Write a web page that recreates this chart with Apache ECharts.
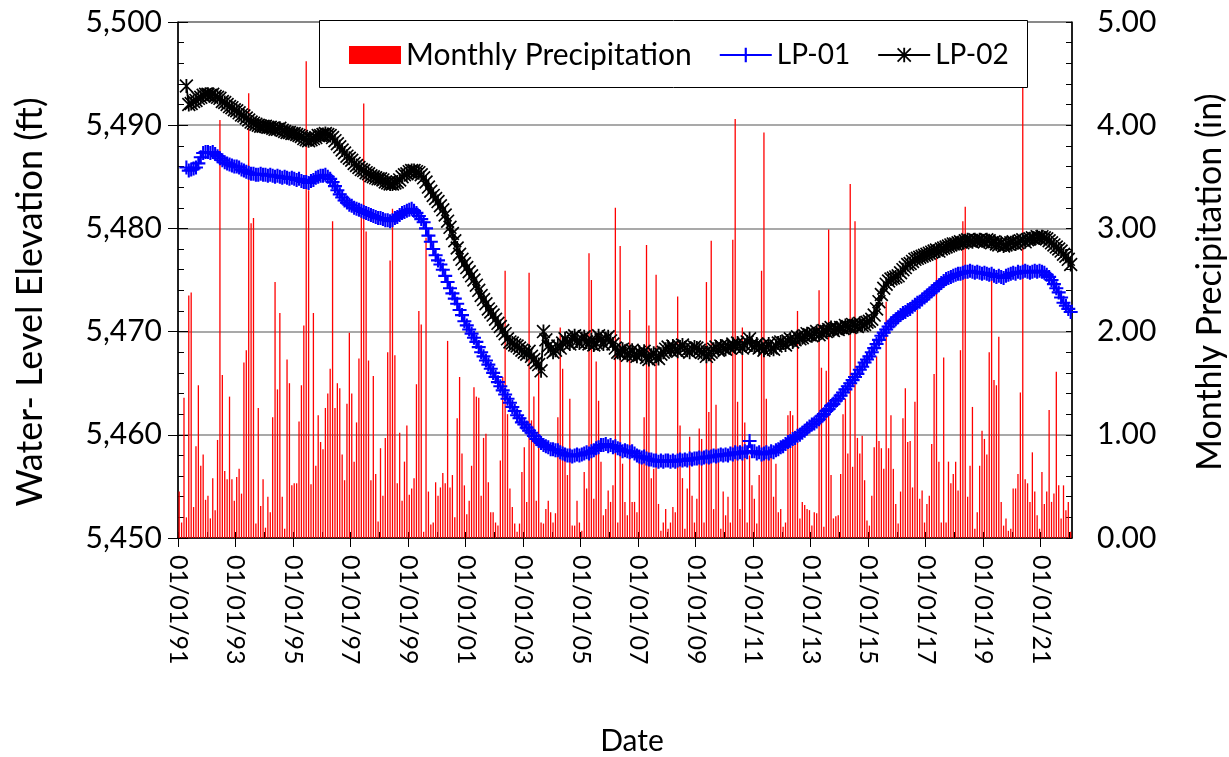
<!DOCTYPE html>
<html><head><meta charset="utf-8">
<script src="https://cdn.jsdelivr.net/npm/echarts@6/dist/echarts.min.js"></script>
<style>html,body{margin:0;padding:0;background:#fff}#c{width:1229px;height:757px}</style>
</head><body><div id="c"></div>
<script>
// ---------- data ----------
const baseYear = 1991;
const precipStart = [1991, 1];   // first monthly precipitation value: Jan 1991
const levelStart = [1991, 4];    // first water-level reading: Apr 1991
const xTickYears = [1991,1993,1995,1997,1999,2001,2003,2005,2007,2009,2011,2013,2015,2017,2019,2021];
const xMinorYears = [1991,1992,1993,1994,1995,1996,1997,1998,1999,2000,2001,2002,2003,2004,2005,2006,2007,2008,2009,2010,2011,2012,2013,2014,2015,2016,2017,2018,2019,2020,2021,2022];

const precipitation = [
0.45,0.15,1.36,0.20,2.35,2.38,0.30,0.89,1.48,0.70,
0.81,0.37,0.41,0.19,0.58,0.27,0.95,4.05,1.58,0.65,
0.57,1.37,0.57,0.36,0.59,0.67,0.43,1.70,1.82,4.31,
3.05,3.10,0.14,1.26,0.31,0.57,0.10,0.40,0.25,1.17,
2.48,1.44,2.18,0.40,0.09,1.73,1.50,0.51,0.53,0.53,
1.13,1.48,2.06,4.62,3.37,0.52,2.18,0.70,1.19,0.93,
0.86,1.26,1.40,1.64,3.07,1.26,1.50,1.45,0.81,0.56,
1.30,1.99,1.40,0.74,1.12,1.74,3.13,4.21,2.97,1.72,
0.56,1.57,0.62,0.16,0.87,0.41,0.97,1.80,2.69,3.19,
1.77,0.53,1.02,0.36,0.74,1.09,0.42,0.48,0.58,1.49,
2.20,2.07,0.06,2.91,0.45,0.13,0.15,0.54,0.41,0.49,
0.63,0.53,1.91,0.49,0.61,0.20,1.16,1.56,0.82,0.51,
0.23,0.36,0.70,
1.46,1.37,1.36,0.41,0.97,1.01,0.54,0.25,0.25,0.15,
0.12,0.75,1.56,2.59,1.20,0.48,0.30,0.14,0.06,0.14,
0.64,0.88,0.35,2.57,1.14,1.37,0.36,1.65,0.15,0.14,
0.28,0.36,0.25,0.15,0.24,1.17,2.04,1.64,0.78,0.61,
1.35,0.12,0.12,0.36,0.15,0.07,0.64,0.48,2.76,2.50,
0.38,1.71,1.33,0.74,0.22,0.28,0.46,0.35,0.51,3.20,
0.15,2.83,0.72,0.35,0.22,2.21,0.35,0.35,0.25,0.78,
0.74,1.17,2.84,2.06,0.58,0.67,2.55,0.33,0.07,0.15,
0.28,0.09,0.15,0.30,0.25,2.34,1.09,0.58,0.09,0.48,
0.98,0.41,0.15,0.38,1.06,0.96,0.15,2.48,1.22,2.88,
0.28,1.29,0.80,0.09,0.45,0.22,0.40,0.15,2.89,4.06,
1.32,0.28,2.04,1.12,0.15,0.80,0.51,0.38,0.14,0.61,
2.59,3.93,1.35,0.83,0.80,
0.40,0.72,0.25,0.28,0.11,0.15,1.19,1.23,1.19,1.04,
2.20,0.19,0.35,0.32,0.28,0.27,0.12,0.25,0.24,2.40,
1.65,0.11,1.62,2.99,0.61,0.19,0.21,0.22,0.62,1.20,
1.35,0.82,3.43,0.69,3.07,0.97,0.82,0.99,0.56,0.17,
0.12,0.41,0.88,1.76,0.94,0.87,0.67,2.29,0.87,1.19,
0.67,0.33,0.14,0.45,1.16,1.45,0.93,0.94,0.49,1.32,
2.21,0.38,0.46,0.15,0.33,0.41,0.91,1.59,2.71,0.74,
0.15,1.75,0.15,0.74,0.53,0.62,0.74,0.46,1.82,3.07,
3.21,0.40,0.70,1.27,0.09,0.25,0.70,1.04,0.96,0.81,
1.80,2.53,1.53,1.48,1.95,0.35,0.12,0.19,0.07,0.09,
0.48,0.48,0.62,1.41,4.40,0.57,0.53,0.35,0.83,0.45,
0.22,0.09,0.64,0.33,0.45,1.24,0.35,0.43,1.61,0.51,
0.19,0.51,0.27,0.35,0.06
];

const lp01 = [
5485.9,5485.6,5485.7,5485.8,5485.9,5486.3,5486.9,5487.3,5487.4,
5487.4,5487.3,5487.4,5487.2,5487.0,5486.8,5486.6,5486.4,5486.3,5486.2,5486.1,5486.0,
5486.0,5485.9,5485.7,5485.6,5485.5,5485.4,5485.3,5485.3,5485.2,5485.2,5485.3,5485.2,
5485.2,5485.1,5485.2,5485.1,5485.0,5485.1,5485.0,5484.9,5485.0,5484.9,5484.8,5484.9,
5484.8,5484.7,5484.8,5484.6,5484.5,5484.5,5484.4,5484.6,5484.7,5484.9,5485.0,5485.1,
5485.1,5485.2,5485.0,5484.8,5484.5,5484.1,5483.7,5483.3,5483.0,5482.7,5482.5,5482.3,
5482.2,5482.0,5481.9,5481.8,5481.7,5481.6,5481.5,5481.4,5481.3,5481.2,5481.1,5481.0,
5481.0,5480.9,5480.8,5480.8,5480.7,5480.8,5481.0,5481.1,5481.3,5481.5,5481.6,5481.7,
5481.8,5481.9,5481.7,5481.5,5481.2,5480.9,5480.6,5480.0,5479.3,5478.7,5478.0,5477.4,
5476.9,5476.5,5476.0,5475.4,5474.8,5474.2,5473.7,5473.2,5472.7,5472.1,5471.6,5471.0,
5470.6,5470.2,5469.8,5469.4,5469.0,5468.5,5468.0,5467.6,5467.2,5466.8,5466.4,5466.0,
5465.6,5465.1,5464.7,5464.3,5463.9,5463.5,5463.1,5462.7,5462.3,5461.9,5461.6,5461.2,
5461.0,5460.7,5460.4,5460.2,5459.9,5459.6,5459.4,5459.2,5459.0,5458.9,5458.8,5458.6,
5458.6,5458.5,5458.5,5458.3,5458.2,5458.1,5458.0,5458.0,5457.9,5458.0,5458.1,5458.0,
5458.1,5458.2,5458.3,5458.2,5458.4,5458.5,5458.7,5458.8,5459.0,5459.0,5459.1,5458.9,
5459.0,5458.8,5458.9,5458.7,5458.6,5458.4,5458.5,5458.4,5458.3,5458.4,5458.2,5458.0,
5457.9,5457.8,5457.9,5457.7,5457.6,5457.6,5457.5,5457.5,5457.4,5457.5,5457.4,5457.5,
5457.5,5457.4,5457.5,5457.4,5457.5,5457.6,5457.5,5457.6,5457.5,5457.7,5457.6,5457.7,
5457.7,5457.8,5457.7,5457.8,5457.9,5457.8,5457.9,5458.0,5457.9,5458.0,5458.1,5458.0,
5458.1,5458.0,5458.2,5458.1,5458.3,5458.2,5458.3,5458.2,5458.4,5458.3,5459.4,5458.4,
5458.4,5458.2,5458.3,5458.1,5458.2,5458.3,5458.2,5458.4,5458.3,5458.5,5458.6,5458.8,
5458.9,5459.1,5459.3,5459.4,5459.6,5459.7,5459.9,5460.0,5460.2,5460.4,5460.6,5460.8,
5461.0,5461.1,5461.3,5461.5,5461.8,5462.0,5462.3,5462.5,5462.8,5463.0,5463.3,5463.5,
5463.8,5464.1,5464.4,5464.7,5465.0,5465.3,5465.6,5465.9,5466.3,5466.6,5467.0,5467.3,
5467.6,5468.0,5468.4,5468.8,5469.2,5469.6,5469.9,5470.2,5470.5,5470.8,5471.0,5471.2,
5471.4,5471.6,5471.8,5471.9,5472.1,5472.2,5472.4,5472.6,5472.8,5472.9,5473.1,5473.3,
5473.5,5473.7,5473.9,5474.1,5474.3,5474.5,5474.7,5474.9,5475.1,5475.2,5475.3,5475.4,
5475.5,5475.6,5475.6,5475.7,5475.8,5475.8,5475.9,5475.8,5475.7,5475.8,5475.7,5475.6,
5475.7,5475.6,5475.5,5475.6,5475.4,5475.3,5475.4,5475.3,5475.2,5475.4,5475.5,5475.6,
5475.7,5475.6,5475.8,5475.7,5475.8,5475.9,5475.8,5475.7,5475.8,5475.9,5475.8,5475.9,
5475.8,5475.7,5475.5,5475.3,5475.0,5474.6,5474.2,5473.8,5473.3,5472.8,5472.5,5472.2,
5471.9
];

const lp02 = [
5493.8,5492.0,5492.1,5492.3,5492.4,5492.6,5492.7,5492.9,5493.0,
5493.0,5492.9,5493.0,5492.8,5492.7,5492.6,5492.3,5492.2,5492.0,5491.8,5491.7,5491.5,
5491.4,5491.2,5491.0,5490.9,5490.7,5490.5,5490.3,5490.2,5490.1,5490.0,5489.9,5489.9,
5489.9,5489.8,5489.8,5489.7,5489.6,5489.6,5489.7,5489.5,5489.4,5489.3,5489.3,5489.2,
5489.2,5489.1,5489.0,5488.9,5488.7,5488.6,5488.5,5488.6,5488.7,5488.8,5489.0,5489.0,
5489.1,5489.2,5489.1,5489.0,5488.8,5488.5,5488.2,5487.9,5487.6,5487.3,5487.0,5486.8,
5486.6,5486.3,5486.1,5485.9,5485.7,5485.6,5485.4,5485.3,5485.1,5485.0,5484.9,5484.8,
5484.8,5484.7,5484.5,5484.4,5484.3,5484.3,5484.4,5484.5,5484.7,5485.0,5485.2,5485.3,
5485.5,5485.6,5485.6,5485.5,5485.4,5485.2,5484.9,5484.5,5484.0,5483.6,5483.2,5482.9,
5482.6,5482.2,5481.8,5481.3,5480.7,5480.1,5479.5,5478.8,5478.1,5477.5,5477.0,5476.6,
5476.2,5475.8,5475.4,5475.0,5474.5,5474.0,5473.5,5473.1,5472.7,5472.2,5471.9,5471.6,
5471.2,5470.8,5470.5,5470.1,5469.8,5469.3,5469.0,5468.9,5468.7,5468.6,5468.4,5468.2,
5468.0,5467.8,5468.1,5467.6,5467.3,5467.0,5466.8,5466.2,5470.0,5469.2,5468.6,5468.3,
5468.0,5468.2,5468.6,5468.4,5468.9,5469.3,5469.0,5468.8,5469.4,5469.6,5469.1,5468.9,
5469.3,5469.5,5469.0,5468.8,5469.2,5468.7,5468.9,5469.6,5469.2,5468.8,5469.3,5469.5,
5469.1,5468.8,5468.4,5468.0,5467.9,5468.3,5468.1,5467.7,5467.9,5468.2,5467.8,5467.6,
5468.0,5467.8,5468.1,5467.5,5467.3,5467.7,5467.9,5467.6,5467.4,5467.8,5468.0,5468.3,
5468.5,5468.2,5468.6,5468.3,5468.1,5468.5,5468.7,5468.4,5468.2,5468.0,5468.3,5468.5,
5468.4,5468.2,5468.0,5467.9,5467.6,5467.8,5468.0,5468.3,5468.5,5468.2,5468.6,5468.4,
5468.3,5468.6,5468.4,5468.8,5468.5,5468.9,5468.6,5468.4,5468.7,5469.0,5469.3,5468.7,
5468.5,5468.8,5468.4,5468.6,5468.2,5468.5,5468.8,5468.4,5468.3,5468.6,5468.9,5469.0,
5468.9,5468.7,5469.1,5469.3,5469.0,5469.2,5469.5,5469.3,5469.4,5469.6,5469.8,5469.7,
5469.6,5469.8,5470.0,5469.7,5469.9,5470.1,5470.0,5470.2,5470.4,5470.1,5470.3,5470.2,
5470.4,5470.3,5470.6,5470.5,5470.4,5470.7,5470.6,5470.5,5470.8,5470.6,5470.7,5470.9,
5471.0,5471.2,5471.6,5472.2,5472.9,5473.6,5474.2,5474.6,5474.9,5475.1,5475.2,5475.3,
5475.4,5475.7,5476.0,5476.2,5476.5,5476.6,5476.8,5477.0,5477.1,5477.2,5477.3,5477.4,
5477.5,5477.6,5477.7,5477.8,5477.9,5477.8,5478.0,5478.1,5478.2,5478.3,5478.4,5478.5,
5478.5,5478.6,5478.7,5478.6,5478.8,5478.9,5478.8,5478.7,5478.9,5478.8,5478.9,5478.8,
5478.7,5478.9,5478.8,5478.6,5478.7,5478.5,5478.4,5478.6,5478.3,5478.4,5478.5,5478.6,
5478.7,5478.5,5478.6,5478.8,5478.9,5478.7,5478.9,5479.0,5479.1,5479.0,5479.2,5479.1,
5479.2,5479.1,5479.0,5478.8,5478.6,5478.4,5478.2,5478.0,5477.8,5477.5,5477.3,5477.0,
5476.5
];

// ---------- helpers ----------
function monthPos(start, i) { // years since baseYear, mid-month
  const m = (start[0] - baseYear) * 12 + (start[1] - 1) + i;
  return (m + 0.5) / 12;
}
const xMax = 31.087;
const FONT = 'Lato, "Open Sans", "DejaVu Sans", sans-serif';
const plusPath = 'path://M0,4.25 L10,4.25 L10,5.75 L0,5.75 Z M4.25,0 L5.75,0 L5.75,10 L4.25,10 Z';
const starPath = 'path://M0.85,0 L10,9.15 L9.15,10 L0,0.85 Z M9.15,0 L10,0.85 L0.85,10 L0,9.15 Z M4.35,0 L5.65,0 L5.65,10 L4.35,10 Z';

const chart = echarts.init(document.getElementById('c'), null, {renderer: 'canvas'});

const tickLine = {color: '#000', width: 1};
chart.setOption({
  animation: false,
  backgroundColor: '#fff',
  grid: {left: 178, right: 157, top: 22, bottom: 219, show: true, borderColor: '#000', borderWidth: 1, backgroundColor: 'transparent'},
  legend: {
    left: 349, top: 40, padding: 0, itemWidth: 52, itemHeight: 18, itemGap: 27,
    selectedMode: false, z: 10,
    textStyle: {fontFamily: FONT, fontSize: 30, color: '#000'},
    data: [
      {name: 'Monthly Precipitation', icon: 'rect'},
      {name: 'LP-01', textStyle: {fontSize: 28}},
      {name: 'LP-02', textStyle: {fontSize: 28}}
    ]
  },
  graphic: {elements: [
    {type: 'rect', z: 5, shape: {x: 319.5, y: 20.5, width: 708, height: 67}, style: {fill: '#fff', stroke: '#000', lineWidth: 1}},
    {type: 'text', z: 10, x: 30, y: 302, rotation: Math.PI / 2,
     style: {text: 'Water- Level Elevation (ft)', font: '36px ' + FONT, fill: '#000', align: 'center', verticalAlign: 'middle'}},
    {type: 'text', z: 10, x: 1210, y: 282, rotation: Math.PI / 2,
     style: {text: 'Monthly Precipitation (in)', font: '34px ' + FONT, fill: '#000', align: 'center', verticalAlign: 'middle'}},
    {type: 'text', z: 10, x: 632, y: 741,
     style: {text: 'Date', font: '30px ' + FONT, fill: '#000', align: 'center', verticalAlign: 'middle'}}
  ]},
  xAxis: [
    {type: 'value', min: 0, max: xMax, position: 'bottom',
     axisLine: {show: true, onZero: false, lineStyle: {color: '#000', width: 1.5}},
     axisTick: {show: true, inside: true, length: 6, lineStyle: tickLine, customValues: xMinorYears.map(y => y - baseYear)},
     axisLabel: {show: true, rotate: -90, margin: 17, fontFamily: FONT, fontSize: 25, color: '#000',
       customValues: xTickYears.map(y => y - baseYear),
       formatter: v => '01/01/' + String(Math.round(v) + baseYear).slice(2)},
     splitLine: {show: false}},
    {type: 'value', min: 0, max: xMax, position: 'bottom',
     axisLine: {show: false, onZero: false},
     axisTick: {show: true, inside: false, length: 9, lineStyle: tickLine, customValues: xTickYears.map(y => y - baseYear)},
     axisLabel: {show: false}, splitLine: {show: false}}
  ],
  yAxis: [
    {type: 'value', min: 5450, max: 5500, interval: 10, position: 'left',
     axisLine: {show: true, onZero: false, lineStyle: {color: '#000', width: 1.5}},
     axisTick: {show: true, inside: true, length: 6, lineStyle: tickLine},
     minorTick: {show: true, splitNumber: 5, length: 6, lineStyle: tickLine},
     splitLine: {show: true, lineStyle: {color: '#8c8c8c', width: 1.5}},
     axisLabel: {margin: 16, fontFamily: FONT, fontSize: 30, color: '#000', formatter: v => v.toLocaleString('en-US')}},
    {type: 'value', min: 0, max: 5, interval: 1, position: 'right',
     axisLine: {show: true, onZero: false, lineStyle: {color: '#000', width: 1.5}},
     axisTick: {show: true, inside: true, length: 6, lineStyle: tickLine},
     minorTick: {show: true, splitNumber: 5, length: 6, lineStyle: tickLine},
     splitLine: {show: false},
     axisLabel: {margin: 25, fontFamily: FONT, fontSize: 30, color: '#000', formatter: v => v.toFixed(2)}},
    {type: 'value', min: 5450, max: 5500, interval: 10, position: 'left',
     axisLine: {show: false}, axisTick: {show: true, inside: false, length: 10, lineStyle: tickLine},
     axisLabel: {show: false}, splitLine: {show: false}},
    {type: 'value', min: 0, max: 5, interval: 1, position: 'right',
     axisLine: {show: false}, axisTick: {show: true, inside: false, length: 10, lineStyle: tickLine},
     axisLabel: {show: false}, splitLine: {show: false}}
  ],
  series: [
    {name: 'Monthly Precipitation', type: 'bar', xAxisIndex: 0, yAxisIndex: 1, barWidth: 1.3,
     itemStyle: {color: '#ff0000'},
     data: precipitation.map((v, i) => [monthPos(precipStart, i), v])},
    {name: 'LP-01', type: 'line', xAxisIndex: 0, yAxisIndex: 0,
     symbol: plusPath, symbolSize: 14, showSymbol: true, showAllSymbol: true,
     lineStyle: {color: '#0000ff', width: 1.8}, itemStyle: {color: '#0000ff', borderWidth: 0},
     data: lp01.map((v, i) => [monthPos(levelStart, i), v])},
    {name: 'LP-02', type: 'line', xAxisIndex: 0, yAxisIndex: 0,
     symbol: starPath, symbolSize: 14, showSymbol: true, showAllSymbol: true,
     lineStyle: {color: '#000', width: 1.8}, itemStyle: {color: '#000', borderWidth: 0},
     data: lp02.map((v, i) => [monthPos(levelStart, i), v])}
  ]
});
</script>
</body></html>
